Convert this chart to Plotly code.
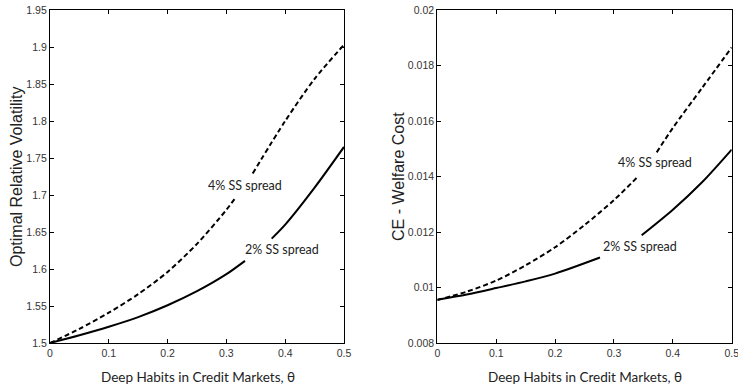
import plotly.graph_objects as go

# ---- Data ----
# Left panel: Optimal Relative Volatility
theta_vol_2 = [0, 0.05, 0.1, 0.15, 0.2, 0.25, 0.3, 0.3316, None, 0.377, 0.4, 0.45, 0.5]
vol_2 = [1.5, 1.5105, 1.522, 1.535, 1.551, 1.570, 1.593, 1.611, None, 1.641, 1.660, 1.710, 1.765]

theta_vol_4 = [0, 0.05, 0.1, 0.15, 0.2, 0.25, 0.3, 0.3146, None, 0.3447, 0.4, 0.45, 0.5]
vol_4 = [1.5, 1.519, 1.541, 1.566, 1.596, 1.634, 1.680, 1.6955, None, 1.729, 1.800, 1.857, 1.903]

# Right panel: CE - Welfare Cost
theta_wc_2 = [0, 0.05, 0.1, 0.15, 0.2, 0.2763, None, 0.3471, 0.4, 0.45, 0.5]
wc_2 = [0.00956, 0.00975, 0.00998, 0.01022, 0.01050, 0.01108, None, 0.01188, 0.01280, 0.01380, 0.01497]

theta_wc_4 = [0, 0.05, 0.1, 0.15, 0.2, 0.25, 0.3, 0.3414, None, 0.3726, 0.4, 0.45, 0.5]
wc_4 = [0.00955, 0.00985, 0.01025, 0.01080, 0.01145, 0.01225, 0.01315, 0.01401, None, 0.01487, 0.01575, 0.01720, 0.01865]

x_ticks = [0, 0.1, 0.2, 0.3, 0.4, 0.5]
x_ticklabels = ["0", "0.1", "0.2", "0.3", "0.4", "0.5"]
vol_ticks = [1.5, 1.55, 1.6, 1.65, 1.7, 1.75, 1.8, 1.85, 1.9, 1.95]
vol_ticklabels = ["1.5", "1.55", "1.6", "1.65", "1.7", "1.75", "1.8", "1.85", "1.9", "1.95"]
wc_ticks = [0.008, 0.010, 0.012, 0.014, 0.016, 0.018, 0.020]
wc_ticklabels = ["0.008", "0.01", "0.012", "0.014", "0.016", "0.018", "0.02"]

label_4 = "4% SS spread"
label_2 = "2% SS spread"
x_title = "Deep Habits in Credit Markets, θ"
y_title_left = "Optimal Relative Volatility"
y_title_right = "CE - Welfare Cost"

W, H = 738, 389


def px(xp):
    return xp / W


def py(yp):
    return (H - yp) / H


fig = go.Figure()
line_solid = dict(color="black", width=2, shape="spline", smoothing=0.8)
line_dash = dict(color="black", width=2, dash="5px,3px", shape="spline", smoothing=0.8)

fig.add_trace(go.Scatter(x=theta_vol_4, y=vol_4, mode="lines", line=line_dash,
                         connectgaps=False, xaxis="x", yaxis="y", showlegend=False))
fig.add_trace(go.Scatter(x=theta_vol_2, y=vol_2, mode="lines", line=line_solid,
                         connectgaps=False, xaxis="x", yaxis="y", showlegend=False))
fig.add_trace(go.Scatter(x=theta_wc_4, y=wc_4, mode="lines", line=line_dash,
                         connectgaps=False, xaxis="x2", yaxis="y2", showlegend=False))
fig.add_trace(go.Scatter(x=theta_wc_2, y=wc_2, mode="lines", line=line_solid,
                         connectgaps=False, xaxis="x2", yaxis="y2", showlegend=False))

tickfont = dict(family="Liberation Sans, Arial, sans-serif", size=10.5, color="#333333")
axis_common = dict(showline=True, linecolor="black", linewidth=1.2, mirror="ticks",
                   ticks="inside", ticklen=4, tickwidth=1, tickcolor="black",
                   showgrid=False, zeroline=False, tickfont=tickfont, automargin=False,
                   ticklabeloverflow="allow")

ydom = [py(343), py(10)]
fig.update_layout(
    width=W, height=H,
    margin=dict(l=0, r=0, t=0, b=0),
    paper_bgcolor="white", plot_bgcolor="white",
    hovermode=False,
    xaxis=dict(domain=[px(50), px(344)], range=[0, 0.5], tickvals=x_ticks,
               ticktext=x_ticklabels, anchor="y", **axis_common),
    yaxis=dict(domain=ydom, range=[1.5, 1.95], tickvals=vol_ticks,
               ticktext=vol_ticklabels, anchor="x", **axis_common),
    xaxis2=dict(domain=[px(437.3), px(731.7)], range=[0, 0.5], tickvals=x_ticks,
                ticktext=x_ticklabels, anchor="y2", **axis_common),
    yaxis2=dict(domain=ydom, range=[0.008, 0.020], tickvals=wc_ticks,
                ticktext=wc_ticklabels, anchor="x2", **axis_common),
)

lab_font = dict(family="Lato, Open Sans, sans-serif", size=12.5, color="#222222")
xt_font = dict(family="Lato, Open Sans, sans-serif", size=13.5, color="#222222")
title_font = dict(family="Liberation Sans, Arial, sans-serif", size=16, color="#222222")

annotations = [
    dict(x=0.3316, y=1.7122, xref="x", yref="y", text=label_4, showarrow=False, font=lab_font),
    dict(x=0.394, y=1.627, xref="x", yref="y", text=label_2, showarrow=False, font=lab_font),
    dict(x=0.37, y=0.01449, xref="x2", yref="y2", text=label_4, showarrow=False, font=lab_font),
    dict(x=0.3443, y=0.01146, xref="x2", yref="y2", text=label_2, showarrow=False, font=lab_font),
    dict(x=px(198), y=py(377), xref="paper", yref="paper", text=x_title, xanchor="center",
         yanchor="middle", showarrow=False, font=xt_font),
    dict(x=px(585), y=py(377), xref="paper", yref="paper", text=x_title, xanchor="center",
         yanchor="middle", showarrow=False, font=xt_font),
    dict(x=px(16), y=py(177), xref="paper", yref="paper", text=y_title_left, xanchor="center",
         yanchor="middle", textangle=-90, showarrow=False, font=title_font),
    dict(x=px(398), y=py(177), xref="paper", yref="paper", text=y_title_right, xanchor="center",
         yanchor="middle", textangle=-90, showarrow=False, font=title_font),
]
fig.update_layout(annotations=annotations)

# remove the browser's default 8px body margin so the figure sits at the page origin
fig.write_html("out.html", config={"displayModeBar": False},
               post_script="document.body.style.margin='0';")
